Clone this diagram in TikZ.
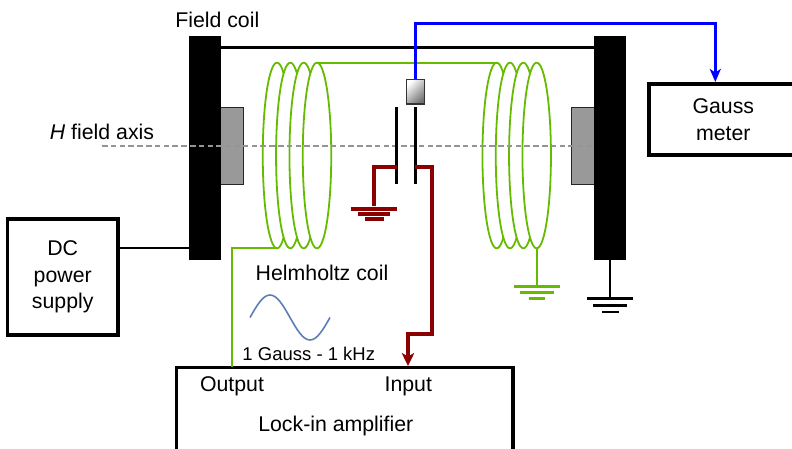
\documentclass[tikz,border=0pt]{standalone}
\usepackage{fontspec}
\setmainfont{Liberation Sans}
\usepackage{tikz}
\usetikzlibrary{shapes.geometric,arrows.meta}
\definecolor{coilgreen}{RGB}{102,187,0}
\definecolor{leadred}{RGB}{139,0,0}
\definecolor{sinecolor}{RGB}{91,125,184}
\tikzstyle{ironbar}=[fill=black,%
                          rectangle,%
                          inner sep     = 0pt,%
                          minimum width = 32pt,%
                          minimum height= 224pt]
\tikzstyle{polepiece}=[draw=black!85,fill=black!40,line width=1.5pt,rectangle,inner sep=0pt,outer sep=0pt,minimum width=29pt,minimum height=77pt]
\tikzstyle{coilturn}=[draw=coilgreen,fill=white,line width=1.8pt,ellipse,inner sep=0pt,outer sep=0pt,minimum width=28.5pt,minimum height=185.6pt]
\tikzstyle{instrument}=[draw,rectangle,inner sep=0pt,outer sep=0pt,align=center,font=\fontsize{21.3}{26.3}\selectfont]
\tikzstyle{platenode}=[fill=black,rectangle,inner sep=0pt,minimum width=2.8pt,minimum height=77pt]
\tikzstyle{groundbar}=[fill,rectangle,inner sep=0pt,minimum height=2.6pt]
\tikzstyle{textnode}=[anchor=base,inner sep=0pt,font=\fontsize{21.3}{26.3}\selectfont]
\begin{document}
\begin{tikzpicture}[x=1pt,y=-1pt]
            \useasboundingbox (0,0) rectangle (792,449);
            \clip (0,0) rectangle (792,449);
            % magnet
            \node[polepiece] (poleL) at (229,145.8) {};
            \node[polepiece] (poleR) at (586,145.8) {};
            \node[ironbar] (barL) at (205,148) {};
            \node[ironbar] (barR) at (610,148) {};
            \coordinate (yokeL) at (221,47.5);
            \coordinate (yokeR) at (594,47.5);
            \draw [line width=2.5pt] (yokeL) -- (yokeR);
            % coils
            \node[coilturn] (coilLa) at (277,155.5) {};
            \node[coilturn] (coilLb) at (290.3,155.5) {};
            \node[coilturn] (coilLc) at (303.7,155.5) {};
            \node[coilturn] (coilLd) at (317,155.5) {};
            \node[coilturn] (coilRa) at (496.7,155.5) {};
            \node[coilturn] (coilRb) at (510,155.5) {};
            \node[coilturn] (coilRc) at (523.3,155.5) {};
            \node[coilturn] (coilRd) at (536.7,155.5) {};
            % axis
            \coordinate (axisL) at (102,145.8);
            \coordinate (axisR) at (594,145.8);
            \draw [black!42,line width=1.5pt,dash pattern=on 5.5pt off 3.3pt] (axisL) -- (axisR);
            % instruments
            \node[instrument,line width=3.4pt,minimum width=110.5pt,minimum height=116pt] (supply) at (62.75,277) {DC\\power\\supply};
            \node[instrument,line width=4pt,minimum width=148pt,minimum height=71.5pt] (gauss) at (723.3,119.75) {Gauss\\meter};
            \node[instrument,line width=3.5pt,minimum width=336.5pt,minimum height=90pt] (lockin) at (344.75,412.5) {};
            \node[textnode] (output) at (232,391.7) {Output};
            \node[textnode] (input) at (408.3,391.7) {Input};
            \node[textnode] (amp) at (335.8,431.7) {Lock-in amplifier};
            % sample and probe
            \node[draw=black!80,line width=1.3pt,rectangle,inner sep=0pt,outer sep=0pt,top color=white,bottom color=black!55,shading angle=45,minimum width=18pt,minimum height=24.5pt] (probe) at (415.3,91.7) {};
            \node[platenode] (plateL) at (396.7,145.8) {};
            \node[platenode] (plateR) at (415.3,145.8) {};
            % grounds
            \node[groundbar,leadred,minimum width=46pt,minimum height=4pt] (redA) at (374,208.7) {};
            \node[groundbar,leadred,minimum width=32pt,minimum height=4pt] (redB) at (374,214.2) {};
            \node[groundbar,leadred,minimum width=19pt,minimum height=4pt] (redC) at (374,219.3) {};
            \node[groundbar,coilgreen,minimum width=46pt] (greenA) at (536.7,286.7) {};
            \node[groundbar,coilgreen,minimum width=34pt] (greenB) at (536.7,292.5) {};
            \node[groundbar,coilgreen,minimum width=16pt] (greenC) at (536.7,298.3) {};
            \node[groundbar,black,minimum width=46pt] (blackA) at (610,298.7) {};
            \node[groundbar,black,minimum width=34pt] (blackB) at (610,305.3) {};
            \node[groundbar,black,minimum width=17pt] (blackC) at (610,312) {};
            % labels
            \node[textnode] (fieldcoil) at (217.3,28) {Field coil};
            \node[textnode] (axislabel) at (102,139.3) {\textit{H} field axis};
            \node[textnode] (helmholtz) at (322,280.7) {Helmholtz coil};
            \node[textnode,font=\fontsize{18.5}{22}\selectfont] (drive) at (308.8,360.7) {1 Gauss - 1 kHz};
            % wires
            \coordinate (supplyout) at (118,248);
            \coordinate (barin) at (189,248);
            \coordinate (outpin) at (232,367);
            \coordinate (bluebend) at (715.3,24);
            \coordinate (gaussin) at (715.3,82);
            \coordinate (tapL) at (396.7,167);
            \coordinate (tapR) at (415.3,167);
            \coordinate (redbend) at (431.7,334.3);
            \coordinate (inpin) at (408,366);
            \draw [line width=2pt] (supplyout) -- (barin);
            \draw [line width=2.3pt] (barR.south) -- (blackA.north);
            \draw [coilgreen,line width=2pt] (coilLd.north) -- (coilRa.north);
            \draw [coilgreen,line width=2.2pt] (coilLa.south) -| (outpin);
            \draw [coilgreen,line width=2.2pt] (coilRd.south) -- (greenA.north);
            \draw [blue,line width=3pt,-{Stealth[length=13pt,width=11pt,inset=3.5pt]}] (probe.north) |- (bluebend) -- (gaussin);
            \draw [leadred,line width=4pt] (tapL) -| (redA.north);
            \draw [leadred,line width=4pt,-{Stealth[length=13pt,width=12.5pt,inset=3.5pt]}] (tapR) -| (redbend) -| (inpin);
            \draw [sinecolor,line width=1.6pt] (250,317.5) sin (270,295) cos (290,317.5) sin (310,340) cos (330,317.5);
\end{tikzpicture}
\end{document}
